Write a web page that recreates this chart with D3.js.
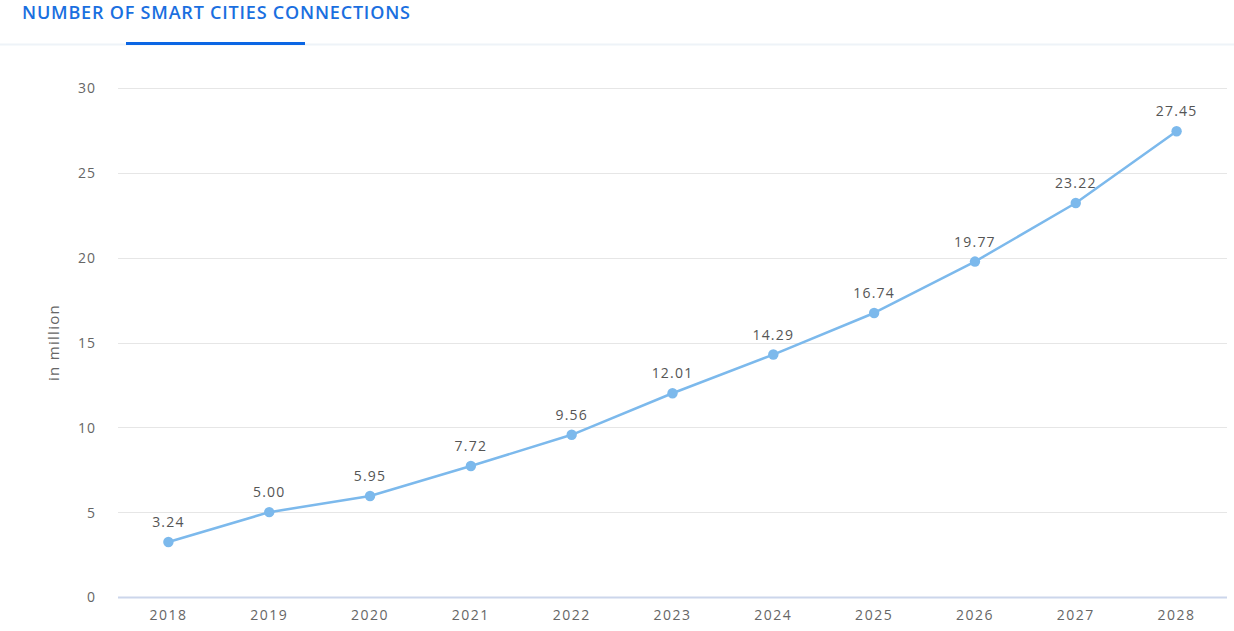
<!DOCTYPE html>
<html>
<head>
<meta charset="utf-8">
<script src="https://cdn.jsdelivr.net/npm/d3@7"></script>
<style>
  html, body { margin: 0; padding: 0; background: #fff; }
  svg { display: block; font-family: "Open Sans", "Noto Sans", sans-serif; }
</style>
</head>
<body>
<svg id="chart" width="1234" height="631"></svg>
<script>
// Smart city connections per year, in million
const years = ["2018","2019","2020","2021","2022","2023","2024","2025","2026","2027","2028"];
const connections = [3.24, 5.00, 5.95, 7.72, 9.56, 12.01, 14.29, 16.74, 19.77, 23.22, 27.45];
const yTicks = [0, 5, 10, 15, 20, 25, 30];
const titleText = "NUMBER OF SMART CITIES CONNECTIONS";
const yAxisTitle = "in million";

const svg = d3.select("#chart");
const W = 1234, H = 631;
const plot = { left: 118, right: 1227, top: 88, bottom: 597 };

// Header: title, tab underline, divider
svg.append("line")
  .attr("x1", 0).attr("x2", W).attr("y1", 44.5).attr("y2", 44.5)
  .attr("stroke", "#eef3f8").attr("stroke-width", 2);
svg.append("rect")
  .attr("x", 126).attr("y", 42).attr("width", 179).attr("height", 3)
  .attr("fill", "#0b66e4");
svg.append("text")
  .attr("x", 22).attr("y", 19)
  .attr("fill", "#1a6fe0")
  .attr("font-size", 18).attr("font-weight", 600)
  .style("letter-spacing", "0.8px")
  .text(titleText);

const x = d3.scaleBand().domain(years).range([plot.left, plot.right]);
const y = d3.scaleLinear().domain([0, 30]).range([plot.bottom, plot.top]);

// Horizontal gridlines
svg.append("g").selectAll("line")
  .data(yTicks.filter(t => t !== 0))
  .join("line")
  .attr("x1", plot.left).attr("x2", plot.right)
  .attr("y1", d => Math.round(y(d)) + 0.5).attr("y2", d => Math.round(y(d)) + 0.5)
  .attr("stroke", "#e6e6e6").attr("stroke-width", 1);

// Baseline
svg.append("line")
  .attr("x1", plot.left).attr("x2", plot.right)
  .attr("y1", Math.round(y(0)) + 0.5).attr("y2", Math.round(y(0)) + 0.5)
  .attr("stroke", "#ccd6eb").attr("stroke-width", 2);

// Y tick labels
const yAxis = d3.axisLeft(y).tickValues(yTicks).tickSize(0).tickPadding(0);
const gy = svg.append("g").attr("transform", `translate(${plot.left - 22},0)`).call(yAxis);
gy.select(".domain").remove();
gy.selectAll("text")
  .attr("font-family", "'Open Sans', sans-serif")
  .attr("font-size", 14).attr("fill", "#666").attr("dy", "0.35em")
  .style("letter-spacing", "1px");

// X tick labels
const xAxis = d3.axisBottom(x).tickSize(0).tickPadding(0);
const gx = svg.append("g").attr("transform", `translate(0,${plot.bottom + 13})`).call(xAxis);
gx.select(".domain").remove();
gx.selectAll("text")
  .attr("font-family", "'Open Sans', sans-serif")
  .attr("font-size", 14).attr("fill", "#666").attr("dy", "0.71em")
  .style("letter-spacing", "1.5px");

// Y axis title
svg.append("text")
  .attr("transform", `translate(59,${(plot.top + plot.bottom) / 2}) rotate(-90)`)
  .attr("text-anchor", "middle")
  .attr("font-size", 15).attr("fill", "#666")
  .style("letter-spacing", "1.3px")
  .text(yAxisTitle);

const cx = d => x(d) + x.bandwidth() / 2;

// Series line
const line = d3.line().x((d, i) => cx(years[i])).y(d => y(d));
svg.append("path")
  .datum(connections)
  .attr("d", line)
  .attr("fill", "none").attr("stroke", "#7cb9ec").attr("stroke-width", 2.5)
  .attr("stroke-linejoin", "round");

// Markers
svg.append("g").selectAll("circle")
  .data(connections)
  .join("circle")
  .attr("cx", (d, i) => cx(years[i])).attr("cy", d => y(d))
  .attr("r", 5.2).attr("fill", "#7cb9ec");

// Data labels
svg.append("g").selectAll("text")
  .data(connections)
  .join("text")
  .attr("x", (d, i) => cx(years[i])).attr("y", d => y(d) - 15)
  .attr("text-anchor", "middle")
  .attr("font-size", 14).attr("fill", "#555")
  .style("letter-spacing", "1.2px")
  .text(d => d.toFixed(2));
</script>
</body>
</html>
